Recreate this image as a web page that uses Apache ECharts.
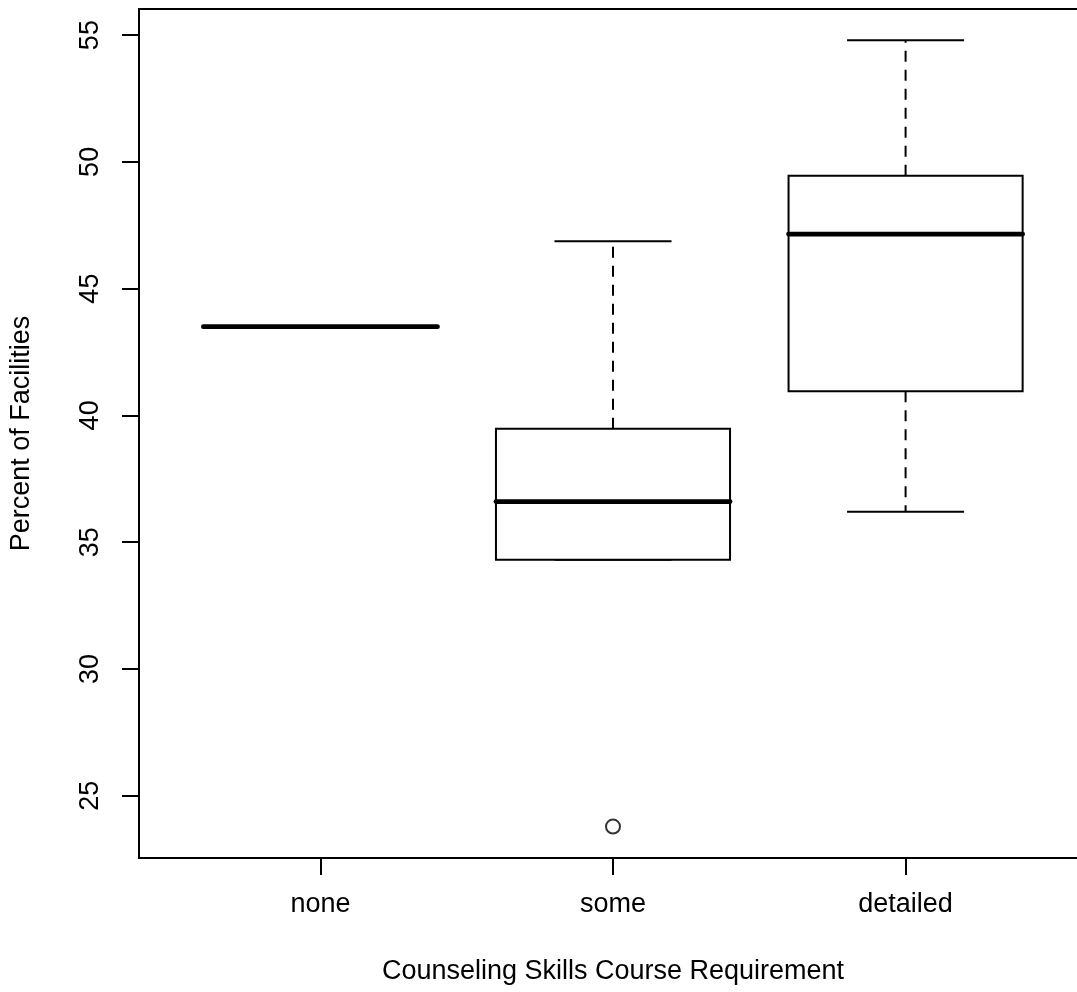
<!DOCTYPE html>
<html>
<head>
<meta charset="utf-8">
<script src="https://cdn.jsdelivr.net/npm/echarts@6/dist/echarts.min.js"></script>
<style>
html,body{margin:0;padding:0;background:#fff;overflow:hidden;}
#chart{width:1077px;height:992px;}
</style>
</head>
<body>
<div id="chart"></div>
<script>
// ---- data ----
var categories = ['none', 'some', 'detailed'];
var lowerWhisker = [43.5, 34.3, 36.2];
var q1 = [43.5, 34.3, 40.95];
var median = [43.5, 36.6, 47.15];
var q3 = [43.5, 39.47, 49.45];
var upperWhisker = [43.5, 46.87, 54.8];
var outlierCategory = ['some'];
var outlierValue = [23.78];
var yTicks = [25, 30, 35, 40, 45, 50, 55];
var xTitle = 'Counseling Skills Course Requirement';
var yTitle = 'Percent of Facilities';

// ---- build ----
var boxData = categories.map(function (c, i) {
  return [i + 1, lowerWhisker[i], q1[i], median[i], q3[i], upperWhisker[i]];
});
var outlierData = outlierCategory.map(function (c, i) {
  return [categories.indexOf(c) + 1, outlierValue[i]];
});

var FONT = 'Liberation Sans, Arial, Helvetica, sans-serif';
var FS = 27;
var chart = echarts.init(document.getElementById('chart'), null, {renderer: 'canvas'});

function renderBox(params, api) {
  var x = api.value(0);
  var lw = api.value(1), a = api.value(2), m = api.value(3), b = api.value(4), uw = api.value(5);
  var halfBox = 0.4, halfStaple = 0.2;
  var pL = api.coord([x - halfBox, b]);
  var pR = api.coord([x + halfBox, a]);
  var sL = api.coord([x - halfStaple, 0])[0];
  var sR = api.coord([x + halfStaple, 0])[0];
  var cx = api.coord([x, 0])[0];
  var yLW = api.coord([x, lw])[1];
  var yQ1 = api.coord([x, a])[1];
  var yM = api.coord([x, m])[1];
  var yQ3 = api.coord([x, b])[1];
  var yUW = api.coord([x, uw])[1];
  var thin = {stroke: '#000', lineWidth: 2, fill: null};
  var dashed = {stroke: '#000', lineWidth: 2, lineDash: [11, 8]};
  var children = [];
  if (yUW < yQ3) children.push({type: 'line', shape: {x1: cx, y1: yQ3, x2: cx, y2: yUW}, style: dashed});
  if (yLW > yQ1) children.push({type: 'line', shape: {x1: cx, y1: yQ1, x2: cx, y2: yLW}, style: dashed});
  children.push({type: 'line', shape: {x1: sL, y1: yUW, x2: sR, y2: yUW}, style: thin});
  children.push({type: 'line', shape: {x1: sL, y1: yLW, x2: sR, y2: yLW}, style: thin});
  children.push({type: 'rect', shape: {x: pL[0], y: pL[1], width: pR[0] - pL[0], height: pR[1] - pL[1]}, style: {stroke: '#000', lineWidth: 2, fill: '#fff'}});
  children.push({type: 'line', shape: {x1: pL[0], y1: yM, x2: pR[0], y2: yM}, style: {stroke: '#000', lineWidth: 4.8, lineCap: 'round'}});
  return {type: 'group', children: children};
}

var option = {
  backgroundColor: '#fff',
  animation: false,
  grid: {
    left: 139, top: 9, width: 948, height: 849,
    outerBoundsMode: 'none',
    containLabel: false,
    show: true, borderColor: '#000', borderWidth: 2, backgroundColor: 'transparent'
  },
  xAxis: {
    type: 'value',
    min: 0.38, max: 3.62,
    name: xTitle,
    nameLocation: 'middle',
    nameGap: 100,
    nameTextStyle: {fontFamily: FONT, fontSize: FS, color: '#000'},
    axisLine: {show: false},
    splitLine: {show: false},
    axisTick: {show: true, length: 17, customValues: [1, 2, 3], lineStyle: {color: '#000', width: 2}},
    axisLabel: {
      customValues: [1, 2, 3],
      margin: 33,
      fontFamily: FONT, fontSize: FS, color: '#000',
      formatter: function (v) { return categories[Math.round(v) - 1] || ''; }
    }
  },
  yAxis: {
    type: 'value',
    min: 22.54, max: 56.03,
    name: yTitle,
    nameLocation: 'middle',
    nameRotate: 90,
    nameGap: 104,
    nameTextStyle: {fontFamily: FONT, fontSize: FS, color: '#000'},
    axisLine: {show: false},
    splitLine: {show: false},
    axisTick: {show: true, length: 17, customValues: yTicks, lineStyle: {color: '#000', width: 2}},
    axisLabel: {
      customValues: yTicks,
      rotate: 90,
      margin: 35,
      fontFamily: FONT, fontSize: FS, color: '#000'
    }
  },
  series: [
    {
      type: 'custom',
      renderItem: renderBox,
      data: boxData,
      encode: {x: 0, y: [1, 2, 3, 4, 5]},
      clip: true
    },
    {
      type: 'scatter',
      data: outlierData,
      symbol: 'circle',
      symbolSize: 14,
      itemStyle: {color: '#fff', borderColor: '#000', borderWidth: 2},
      z: 3
    }
  ]
};
chart.setOption(option);
</script>
</body>
</html>
